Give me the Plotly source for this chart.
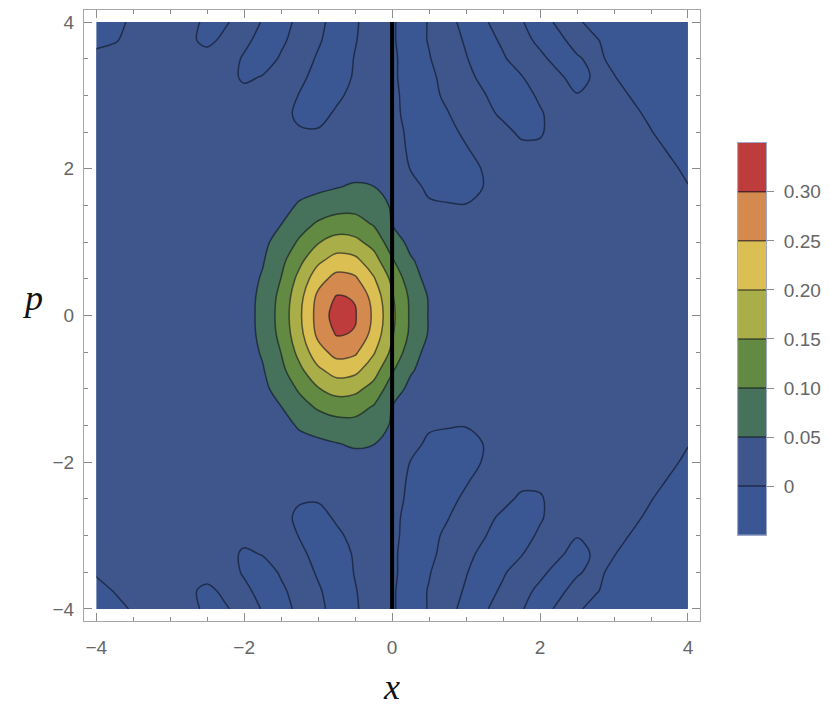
import plotly.graph_objects as go

# sampling grid of the phase-space plot
x_grid = [-4.0, -3.75, -3.5, -3.25, -3.0, -2.75, -2.5, -2.25, -2.0, -1.75, -1.5, -1.25, -1.0,
          -0.75, -0.5, -0.25, 0.0, 0.25, 0.5, 0.75, 1.0, 1.25, 1.5, 1.75, 2.0, 2.25, 2.5,
          2.75, 3.0, 3.25, 3.5, 3.75, 4.0]
p_grid = [-4.0, -3.75, -3.5, -3.25, -3.0, -2.75, -2.5, -2.25, -2.0, -1.75, -1.5, -1.25, -1.0,
          -0.75, -0.5, -0.25, 0.0, 0.25, 0.5, 0.75, 1.0, 1.25, 1.5, 1.75, 2.0, 2.25, 2.5,
          2.75, 3.0, 3.25, 3.5, 3.75, 4.0]

# W(x, p) in units of 1e-3, one row per p value (p = -4 ... 4)
w_milli = [
    [-10, -6, 2, 12, 12, 6, -4, -2, 8, -1, -6, 4, 4, -6, -2, 8, 2, -8, 1, 5, -5, -2, 8, 1, -7, 3, 3, -7, -10, -10, -10, -10, -10],
    [-6, 1, 8, 12, 12, 4, -5, 5, 4, -6, -3, 7, 2, -8, -1, 9, 2, -8, 1, 8, -2, -7, 3, 6, -4, -4, 6, 2, -8, -10, -10, -10, -10],
    [2, 10, 12, 12, 12, 10, 9, 8, -2, -8, 2, 8, -2, -10, 1, 10, 3, -7, -1, 9, 1, -9, -2, 8, 4, -6, -2, 5, -5, -10, -10, -10, -10],
    [12, 12, 12, 12, 12, 12, 12, 7, -3, 1, 10, 4, -6, -8, 2, 12, 3, -7, -4, 6, 5, -5, -10, -1, 10, 3, -7, 3, 1, -9, -10, -10, -10],
    [12, 12, 12, 12, 12, 12, 12, 12, 6, 8, 10, -1, -10, -4, 6, 12, 4, -6, -6, 4, 10, 1, -10, -7, 3, 8, 1, 5, 8, -2, -10, -10, -10],
    [12, 12, 12, 12, 12, 12, 12, 12, 12, 12, 6, -4, -7, 3, 13, 13, 5, -6, -10, -1, 10, 6, -4, -10, -2, 8, 12, 12, 12, 5, -5, -10, -10],
    [12, 12, 12, 12, 12, 12, 12, 12, 12, 12, 13, 2, 2, 10, 16, 15, 7, -4, -10, -6, 4, 12, 6, -4, -2, 8, 12, 12, 12, 12, 1, -9, -10],
    [12, 12, 12, 12, 12, 12, 12, 12, 12, 13, 15, 18, 21, 23, 22, 20, 12, -4, -9, -10, -2, 8, 10, 6, 4, 8, 12, 12, 12, 12, 8, -2, -10],
    [12, 12, 12, 12, 12, 12, 12, 12, 13, 15, 19, 25, 30, 33, 32, 28, 21, -1, -8, -10, -8, 2, 12, 12, 12, 12, 12, 12, 12, 12, 12, 5, -5],
    [12, 12, 12, 12, 12, 12, 12, 12, 14, 18, 26, 36, 40, 48, 56, 51, 36, 10, -6, -10, -10, 1, 10, 12, 12, 12, 12, 12, 12, 12, 12, 10, 1],
    [12, 12, 12, 12, 12, 12, 12, 13, 16, 23, 35, 55, 70, 80, 84, 68, 46, 24, 4, 2, 1, 8, 12, 12, 12, 12, 12, 12, 12, 12, 12, 12, 10],
    [12, 12, 12, 12, 12, 12, 12, 13, 18, 29, 49, 81, 106, 122, 118, 96, 49, 28, 20, 15, 13, 12, 12, 12, 12, 12, 12, 12, 12, 12, 12, 12, 12],
    [12, 12, 12, 12, 12, 12, 12, 14, 22, 38, 70, 107, 147, 169, 163, 132, 75, 37, 24, 16, 13, 12, 12, 12, 12, 12, 12, 12, 12, 12, 12, 12, 12],
    [12, 12, 12, 12, 12, 12, 13, 16, 25, 46, 87, 138, 190, 220, 212, 171, 105, 55, 30, 18, 14, 12, 12, 12, 12, 12, 12, 12, 12, 12, 12, 12, 12],
    [12, 12, 12, 12, 12, 12, 13, 17, 28, 55, 101, 166, 231, 267, 258, 205, 139, 72, 34, 20, 14, 12, 12, 12, 12, 12, 12, 12, 12, 12, 12, 12, 12],
    [12, 12, 12, 12, 12, 12, 13, 17, 30, 62, 114, 185, 262, 304, 297, 232, 155, 91, 46, 24, 15, 12, 12, 12, 12, 12, 12, 12, 12, 12, 12, 12, 12],
    [12, 12, 12, 12, 12, 12, 13, 18, 30, 64, 118, 192, 269, 322, 304, 242, 161, 93, 47, 24, 15, 12, 12, 12, 12, 12, 12, 12, 12, 12, 12, 12, 12],
    [12, 12, 12, 12, 12, 12, 13, 17, 30, 62, 114, 185, 262, 304, 297, 232, 155, 91, 46, 24, 15, 12, 12, 12, 12, 12, 12, 12, 12, 12, 12, 12, 12],
    [12, 12, 12, 12, 12, 12, 13, 17, 28, 55, 101, 166, 231, 267, 258, 205, 139, 72, 34, 20, 14, 12, 12, 12, 12, 12, 12, 12, 12, 12, 12, 12, 12],
    [12, 12, 12, 12, 12, 12, 13, 16, 25, 46, 87, 138, 190, 220, 212, 171, 105, 55, 30, 18, 14, 12, 12, 12, 12, 12, 12, 12, 12, 12, 12, 12, 12],
    [12, 12, 12, 12, 12, 12, 12, 14, 22, 38, 70, 107, 147, 169, 163, 132, 75, 37, 24, 16, 13, 12, 12, 12, 12, 12, 12, 12, 12, 12, 12, 12, 12],
    [12, 12, 12, 12, 12, 12, 12, 13, 18, 29, 49, 81, 106, 122, 118, 96, 49, 28, 20, 15, 13, 12, 12, 12, 12, 12, 12, 12, 12, 12, 12, 12, 12],
    [12, 12, 12, 12, 12, 12, 12, 13, 16, 23, 35, 55, 70, 80, 84, 68, 46, 24, 4, 2, 1, 8, 12, 12, 12, 12, 12, 12, 12, 12, 12, 12, 10],
    [12, 12, 12, 12, 12, 12, 12, 12, 14, 18, 26, 36, 40, 48, 56, 51, 36, 10, -6, -10, -10, 1, 10, 12, 12, 12, 12, 12, 12, 12, 12, 10, 1],
    [12, 12, 12, 12, 12, 12, 12, 12, 13, 15, 19, 25, 30, 33, 32, 28, 21, -1, -8, -10, -8, 2, 12, 12, 12, 12, 12, 12, 12, 12, 12, 5, -5],
    [12, 12, 12, 12, 12, 12, 12, 12, 12, 13, 15, 18, 21, 23, 22, 20, 12, -4, -9, -10, -2, 8, 10, 6, 4, 8, 12, 12, 12, 12, 8, -2, -10],
    [12, 12, 12, 12, 12, 12, 12, 12, 12, 12, 13, 2, 2, 10, 16, 15, 7, -4, -10, -6, 4, 12, 6, -4, -2, 8, 12, 12, 12, 12, 1, -9, -10],
    [12, 12, 12, 12, 12, 12, 12, 12, 12, 12, 6, -4, -7, 3, 13, 13, 5, -6, -10, -1, 10, 6, -4, -10, -2, 8, 12, 12, 12, 5, -5, -10, -10],
    [12, 12, 12, 12, 12, 12, 12, 12, 6, 8, 10, -1, -10, -4, 6, 12, 4, -6, -6, 4, 10, 1, -10, -7, 3, 8, 1, 5, 8, -2, -10, -10, -10],
    [12, 12, 12, 12, 12, 12, 12, 7, -3, 1, 10, 4, -6, -8, 2, 12, 3, -7, -4, 6, 5, -5, -10, -1, 10, 3, -7, 3, 1, -9, -10, -10, -10],
    [12, 12, 12, 12, 12, 10, 9, 8, -2, -8, 2, 8, -2, -10, 1, 10, 3, -7, -1, 9, 1, -9, -2, 8, 4, -6, -2, 5, -5, -10, -10, -10, -10],
    [-10, -2, 8, 12, 12, 4, -5, 5, 4, -6, -3, 7, 2, -8, -1, 9, 2, -8, 1, 8, -2, -7, 3, 6, -4, -4, 6, 2, -8, -10, -10, -10, -10],
    [-10, -6, 4, 12, 12, 6, -4, -2, 8, -1, -6, 4, 4, -6, -2, 8, 2, -8, 1, 5, -5, -2, 8, 1, -7, 3, 3, -7, -10, -10, -10, -10, -10],
]

# contour levels (same 1e-3 units) and their labels in the key
levels = [0, 50, 100, 150, 200, 250, 300]
level_labels = ["0", "0.05", "0.10", "0.15", "0.20", "0.25", "0.30"]
key_edges = [-50, 0, 50, 100, 150, 200, 250, 300, 350]
band_colors = ["#3A5794", "#3F568D", "#46715A", "#638A42",
               "#A9AE48", "#DCBF52", "#D4894E", "#BE3C3B"]

# the wall at x = 0
wall_x = [0, 0]
wall_p = [-4, 4]

LINE = "rgba(12,16,30,0.6)"
FRAME = "#A6A6A6"
TICK = "#8C8C8C"
colorscale = [[i / (len(band_colors) - 1), c] for i, c in enumerate(band_colors)]

fig = go.Figure()

fig.add_trace(go.Contour(
    x=x_grid, y=p_grid, z=w_milli,
    autocontour=False,
    contours=dict(start=levels[0], end=levels[-1], size=levels[1] - levels[0],
                  coloring="fill", showlines=True),
    colorscale=colorscale,
    line=dict(color=LINE, width=1.5, smoothing=1.0),
    showscale=False, hoverinfo="skip",
))

fig.add_trace(go.Scatter(
    x=wall_x, y=wall_p, mode="lines",
    line=dict(color="black", width=4),
    showlegend=False, hoverinfo="skip",
))

# colour key, drawn as a one-column heatmap next to the plot
fig.add_trace(go.Heatmap(
    x=[0, 1], y=key_edges,
    z=[[i] for i in range(len(band_colors))],
    colorscale=colorscale, zmin=0, zmax=len(band_colors) - 1,
    showscale=False, hoverinfo="skip",
    xaxis="x2", yaxis="y2",
))
key_x, key_y = [], []
for lv in levels:
    key_x += [0, 1, None]
    key_y += [lv, lv, None]
fig.add_trace(go.Scatter(
    x=key_x, y=key_y, mode="lines",
    line=dict(color=LINE, width=1.5),
    showlegend=False, hoverinfo="skip",
    xaxis="x2", yaxis="y2",
))

tick_font = dict(family="Liberation Sans, Arial, sans-serif", size=19, color="#666666")
axis_common = dict(
    range=[-4.165, 4.165], dtick=2, tick0=0,
    ticks="inside", ticklen=8, tickwidth=1, tickcolor=TICK,
    minor=dict(dtick=0.5, ticks="inside", ticklen=4, tickcolor=TICK, showgrid=False),
    showline=True, linecolor=FRAME, linewidth=1, mirror="ticks",
    showgrid=False, zeroline=False, tickfont=tick_font,
)
title_font = dict(family="Liberation Serif, Times New Roman, serif", size=36, color="#111111")

# the page body adds an 8 px offset, so the figure is shifted by 8 px in the window
fig.update_layout(
    width=814, height=701,
    margin=dict(l=76, r=54, t=1, b=88),
    paper_bgcolor="white", plot_bgcolor="white",
    showlegend=False,
    xaxis=dict(domain=[0, 0.9035], ticklabelstandoff=9, **axis_common),
    yaxis=dict(domain=[0, 1], ticklabelstandoff=5, **axis_common),
    xaxis2=dict(domain=[0.959, 1.0], range=[0, 1], anchor="y2",
                showticklabels=False, ticks="", showgrid=False, zeroline=False,
                showline=True, linecolor="rgba(150,160,195,0.9)", mirror=True),
    yaxis2=dict(domain=[0.1405, 0.7827], range=[key_edges[0], key_edges[-1]], anchor="x2",
                side="right", tickvals=levels, ticktext=level_labels,
                ticks="outside", ticklen=7, tickcolor=TICK, ticklabelstandoff=6,
                showgrid=False, zeroline=False, tickfont=tick_font,
                showline=True, linecolor="rgba(150,160,195,0.9)", mirror=True),
    annotations=[
        dict(text="<i>x</i>", xref="paper", yref="paper", x=0.451, y=-0.108,
             showarrow=False, xanchor="center", yanchor="middle", font=title_font),
        dict(text="<i>p</i>", xref="paper", yref="paper", x=-0.076, y=0.529,
             showarrow=False, xanchor="center", yanchor="middle", font=title_font),
    ],
)

fig.write_html("out.html")
